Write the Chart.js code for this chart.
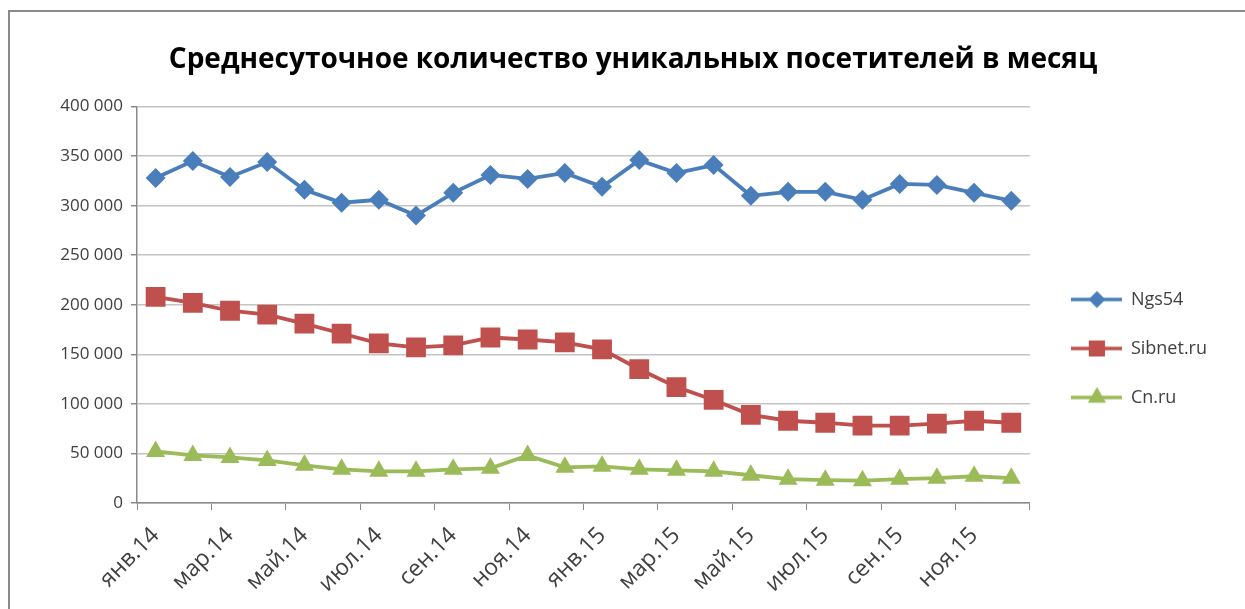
<!DOCTYPE html>
<html>
<head>
<meta charset="utf-8">
<script src="https://cdn.jsdelivr.net/npm/chart.js@4/dist/chart.umd.min.js"></script>
<style>
    html, body { margin: 0; padding: 0; background: #fff; overflow: hidden; }
    #wrap { position: relative; width: 1245px; height: 609px; }
    #frame {
        position: absolute; left: 8px; top: 10px; width: 1300px; height: 700px;
        border-left: 2px solid #8a8a8a; border-top: 2px solid #8a8a8a;
        pointer-events: none;
    }
</style>
</head>
<body>
<div id="wrap">
    <canvas id="myChart" width="1245" height="609"></canvas>
    <div id="frame"></div>
</div>
<script>
var months = ['янв.14', 'фев.14', 'мар.14', 'апр.14', 'май.14', 'июн.14',
    'июл.14', 'авг.14', 'сен.14', 'окт.14', 'ноя.14', 'дек.14',
    'янв.15', 'фев.15', 'мар.15', 'апр.15', 'май.15', 'июн.15',
    'июл.15', 'авг.15', 'сен.15', 'окт.15', 'ноя.15', 'дек.15'];

var ngs54Values = [328000, 345000, 329000, 344000, 316000, 303000, 306000, 290000,
    313000, 331000, 327000, 333000, 319000, 346000, 333000, 341000,
    310000, 314000, 314000, 306000, 322000, 321000, 313000, 305000];

var sibnetValues = [208000, 202000, 194000, 190000, 181000, 171000, 161000, 157000,
    159000, 167000, 165000, 162000, 155000, 135000, 117000, 104000,
    89000, 83000, 81000, 78000, 78000, 80000, 83000, 81000];

var cnValues = [52000, 48000, 46000, 43000, 38000, 34000, 32000, 32000,
    34000, 35000, 48000, 36000, 37000, 34000, 33000, 32000,
    28000, 24000, 23000, 22500, 24000, 25000, 27000, 25000];

var seriesNames = ['Ngs54', 'Sibnet.ru', 'Cn.ru'];
var seriesColors = ['#4a7ebb', '#c0504d', '#9bbb59'];

var fontName = "'Open Sans', 'Noto Sans', sans-serif";

// legend icon: short line with the marker in the middle (left part left empty on purpose)
function makeLegendIcon(color, style, radius){
    let c = document.createElement('canvas');
    c.width = 61;
    c.height = 22;
    let ctx = c.getContext('2d');
    ctx.strokeStyle = color;
    ctx.lineWidth = 3.5;
    ctx.beginPath();
    ctx.moveTo(10, 11);
    ctx.lineTo(61, 11);
    ctx.stroke();
    ctx.fillStyle = color;
    Chart.helpers.drawPoint(ctx, {pointStyle: style, radius: radius, rotation: 0, borderWidth: 1}, 36, 11);
    ctx.fill();
    return c;
}

var legendIcons = [
    makeLegendIcon(seriesColors[0], 'rectRot', 6),
    makeLegendIcon(seriesColors[1], 'rect', 9),
    makeLegendIcon(seriesColors[2], 'triangle', 7)
];

function formatThousands(v){
    return v.toString().replace(/\B(?=(\d{3})+(?!\d))/g, ' ');
}

new Chart('myChart', {
    type: 'line',
    data: {
        labels: months,
        datasets: [{
            label: seriesNames[0],
            data: ngs54Values,
            borderColor: seriesColors[0],
            backgroundColor: seriesColors[0],
            borderWidth: 3.8,
            pointStyle: 'rectRot',
            pointRadius: 10,
            pointBorderWidth: 0,
            fill: false
        }, {
            label: seriesNames[1],
            data: sibnetValues,
            borderColor: seriesColors[1],
            backgroundColor: seriesColors[1],
            borderWidth: 3.8,
            pointStyle: 'rect',
            pointRadius: 14,
            pointBorderWidth: 0,
            fill: false
        }, {
            label: seriesNames[2],
            data: cnValues,
            borderColor: seriesColors[2],
            backgroundColor: seriesColors[2],
            borderWidth: 3.8,
            pointStyle: 'triangle',
            pointRadius: 11,
            pointBorderWidth: 0,
            fill: false
        }]
    },
    options: {
        responsive: false,
        animation: false,
        layout: {
            padding: {left: 49, right: 28, top: 0, bottom: 0}
        },
        plugins: {
            title: {
                display: true,
                text: 'Среднесуточное количество уникальных посетителей в месяц',
                color: '#000',
                font: {family: fontName, size: 28, weight: 'bold'},
                padding: {top: 43, bottom: 30}
            },
            legend: {
                position: 'right',
                title: {
                    display: true,
                    text: ' ',
                    font: {size: 10},
                    padding: {top: 38, bottom: 38}
                },
                labels: {
                    usePointStyle: true,
                    pointStyleWidth: 61,
                    color: '#404040',
                    font: {family: fontName, size: 18},
                    padding: 31,
                    generateLabels: function(chart){
                        let items = Chart.defaults.plugins.legend.labels.generateLabels(chart);
                        items.forEach(function(item, i){
                            item.pointStyle = legendIcons[i];
                        });
                        return items;
                    }
                }
            },
            tooltip: {enabled: false}
        },
        scales: {
            x: {
                offset: true,
                grid: {
                    offset: true,
                    drawOnChartArea: false,
                    drawTicks: true,
                    tickLength: 7,
                    color: function(ctx){
                        if (ctx.type === 'tick' && ctx.index % 2 === 1) return 'rgba(0,0,0,0)';
                        return '#8a8a8a';
                    }
                },
                border: {color: '#8a8a8a', width: 1.5},
                ticks: {
                    autoSkip: false,
                    minRotation: 45,
                    maxRotation: 45,
                    color: '#404040',
                    font: {family: fontName, size: 23},
                    padding: 12,
                    callback: function(value, index){
                        return index % 2 === 0 ? months[index] : '';
                    }
                },
                afterFit: function(scale){
                    scale.height = 106;
                }
            },
            y: {
                min: 0,
                max: 400000,
                grid: {
                    color: '#c4c4c4',
                    lineWidth: 1.5,
                    tickLength: 6,
                    tickColor: '#8a8a8a'
                },
                border: {color: '#8a8a8a', width: 1.5},
                ticks: {
                    stepSize: 50000,
                    color: '#404040',
                    font: {family: fontName, size: 17},
                    padding: 8,
                    callback: function(value){
                        return formatThousands(value);
                    }
                },
                afterFit: function(scale){
                    scale.width = 88;
                }
            }
        }
    }
});
</script>
</body>
</html>
